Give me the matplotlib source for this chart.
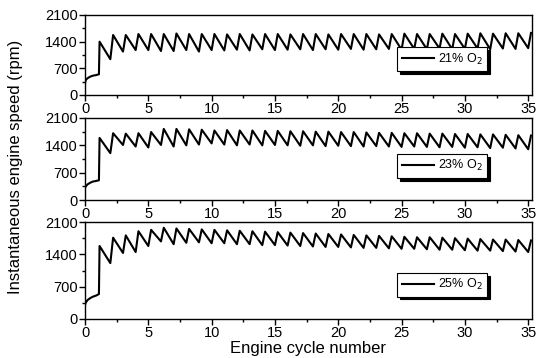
import numpy as np
import matplotlib
matplotlib.use("Agg")
import matplotlib.pyplot as plt
from matplotlib.ticker import MultipleLocator

plt.rcParams["font.family"] = ["Liberation Sans", "DejaVu Sans"]

# ── data ────────────────────────────────────────────────────────────
labels = ["21% O$_2$", "23% O$_2$", "25% O$_2$"]

# start-up (cranking) segment, before the first firing
startup_x = [0.0, 0.05, 0.2, 0.4, 0.6, 0.9, 1.1]
startup_21 = [300, 390, 440, 480, 505, 525, 545]
startup_23 = [300, 345, 400, 440, 470, 490, 505]
startup_25 = [300, 350, 410, 450, 480, 510, 540]

# speed right after the first firing (x ~ 1.15)
first_fire = [1400, 1590, 1580]

# cycle-by-cycle troughs (at cycle 2..35) and peaks (just after them)
cycles = list(range(2, 36))
trough_21 = [940, 1140, 1180, 1180, 1155, 1155, 1180, 1140, 1180, 1170,
             1190, 1170, 1200, 1180, 1190, 1200, 1180, 1200, 1190, 1210,
             1190, 1200, 1210, 1190, 1210, 1200, 1220, 1200, 1210, 1220,
             1200, 1220, 1210, 1230]
peak_21 = [1575, 1575, 1600, 1600, 1600, 1615, 1600, 1600, 1600, 1590,
           1600, 1590, 1600, 1600, 1590, 1600, 1600, 1590, 1600, 1600,
           1600, 1590, 1600, 1610, 1600, 1600, 1610, 1600, 1610, 1620,
           1610, 1620, 1620, 1630]
trough_23 = [1200, 1410, 1370, 1345, 1410, 1370, 1400, 1420, 1450, 1420,
             1400, 1420, 1400, 1410, 1400, 1390, 1400, 1380, 1390, 1380,
             1370, 1380, 1370, 1360, 1370, 1360, 1350, 1360, 1340, 1350,
             1330, 1340, 1320, 1300]
peak_23 = [1710, 1700, 1710, 1740, 1820, 1820, 1810, 1800, 1780, 1790,
           1780, 1780, 1770, 1770, 1760, 1760, 1750, 1750, 1740, 1740,
           1730, 1720, 1720, 1710, 1710, 1700, 1700, 1690, 1690, 1680,
           1680, 1670, 1660, 1650]
trough_25 = [1210, 1430, 1450, 1580, 1680, 1620, 1650, 1660, 1640, 1640,
             1620, 1620, 1600, 1600, 1590, 1580, 1570, 1560, 1560, 1550,
             1540, 1540, 1530, 1520, 1520, 1510, 1500, 1500, 1490, 1480,
             1480, 1470, 1460, 1450]
peak_25 = [1760, 1810, 1900, 1930, 1975, 1960, 1950, 1940, 1930, 1920,
           1910, 1900, 1890, 1880, 1870, 1860, 1850, 1840, 1830, 1820,
           1810, 1800, 1790, 1780, 1770, 1770, 1760, 1750, 1740, 1730,
           1720, 1720, 1710, 1700]

startups = [startup_21, startup_23, startup_25]
troughs = [trough_21, trough_23, trough_25]
peaks = [peak_21, peak_23, peak_25]


def build_trace(startup, jump, trough, peak):
    """Join the start-up segment and the sawtooth vertices into one line."""
    xs = list(startup_x) + [1.15]
    ys = list(startup) + [jump]
    for c, lo, hi in zip(cycles, trough, peak):
        xs += [c, c + 0.22]
        ys += [lo, hi]
    return xs, ys


fig = plt.figure(figsize=(5.37, 3.58), dpi=100)
boxes = [(15, 95), (118, 200), (222, 319)]
left, right = 85 / 537, 532 / 537
axes = []
for top, bottom in boxes:
    ax = fig.add_axes([left, 1 - bottom / 358, right - left, (bottom - top) / 358])
    axes.append(ax)

legend_bottoms = [0.30, 0.27, 0.23]
for i, ax in enumerate(axes):
    xs, ys = build_trace(startups[i], first_fire[i], troughs[i], peaks[i])
    ax.plot(xs, ys, color="black", linewidth=1.5, label=labels[i])
    ax.set_xlim(0, 35.3)
    ax.set_ylim(0, 2100)
    ax.set_yticks([0, 700, 1400, 2100])
    ax.yaxis.set_minor_locator(MultipleLocator(350))
    ax.set_xticks(range(0, 36, 5))
    ax.xaxis.set_minor_locator(MultipleLocator(2.5))
    ax.tick_params(which="major", direction="out", length=4, width=1,
                   labelsize=10.5, pad=1)
    ax.tick_params(which="minor", direction="out", length=2.5, width=1)
    for s in ax.spines.values():
        s.set_linewidth(1)
    leg = ax.legend(loc="lower right", bbox_to_anchor=(0.90, legend_bottoms[i]),
                    borderaxespad=0, frameon=True, fancybox=False,
                    handlelength=2.6, handletextpad=0.3, borderpad=0.35,
                    fontsize=9, shadow={"color": "black", "alpha": 1})
    leg.get_frame().set_edgecolor("black")
    leg.get_frame().set_linewidth(0.8)

fig.text(0.028, 0.535, "Instantaneous engine speed (rpm)", rotation=90,
         ha="center", va="center", fontsize=12)
fig.text(308 / 537, 1 - 349 / 358, "Engine cycle number", ha="center",
         va="center", fontsize=12)

fig.savefig("out.png", dpi=100)
